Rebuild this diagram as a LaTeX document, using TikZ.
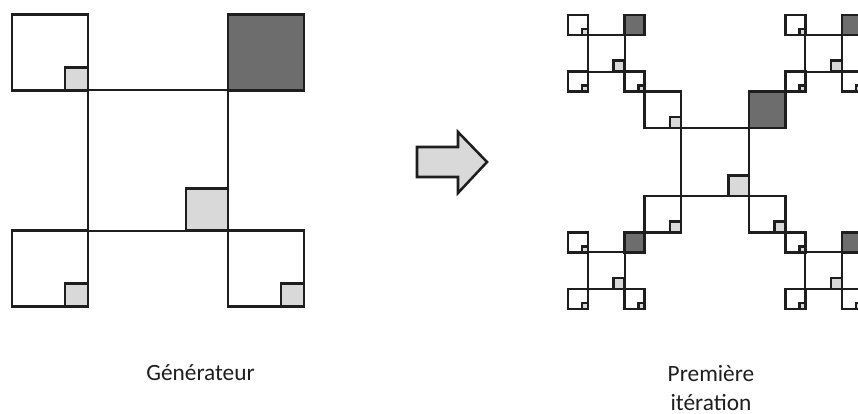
\documentclass[tikz,border=0pt]{standalone}
\usepackage{fontspec}
\setmainfont{Carlito}
\usepackage{tikz}

\definecolor{lite}{HTML}{D9D9D9}
\definecolor{dark}{HTML}{6D6D6D}
\definecolor{edge}{HTML}{1E1E1E}
\tikzset{sq/.style={draw=edge,line width=1.9pt,line join=miter},
  midsq/.style={sq,line width=1.5pt},
  caption/.style={text=edge,anchor=base,inner sep=0pt,font=\fontsize{17.5}{21}\selectfont}}

% white square with a light mark in its lower right corner
\newcommand{\boxlite}[4][sq]{%
  \draw[#1,fill=white] ({#2},{#3}) rectangle ++({#4},{#4});
  \draw[sq,fill=lite] ({#2+0.7*#4},{#3+0.7*#4}) rectangle ++({0.3*#4},{0.3*#4});
}
% generator: top left corner (#1,#2), side #3
\newcommand{\gener}[3]{%
  \pgfmathsetmacro{\gb}{0.26*#3}%
  \pgfmathsetmacro{\ga}{0.48*#3}%
  \pgfmathsetmacro{\gc}{\gb+\ga}%
  \boxlite[midsq]{#1+\gb}{#2+\gb}{\ga}
  \boxlite{#1}{#2}{\gb}
  \boxlite{#1}{#2+\gc}{\gb}
  \boxlite{#1+\gc}{#2+\gc}{\gb}
  \draw[sq,fill=dark] ({#1+\gc},{#2}) rectangle ++({\gb},{\gb});
}

\begin{document}
\begin{tikzpicture}[x=0.75pt,y=-0.75pt]
\useasboundingbox (0,0) rectangle (858,414);
\clip (0,0) rectangle (858,414);
\gener{12}{14.5}{292}
% first iteration
\foreach \px/\py/\ps in {568/15/76.44, 785.56/15/76.44, 644.44/91.44/141.12,
                         568/232.56/76.44, 785.56/232.56/76.44}
  {\gener{\px}{\py}{\ps}}
\draw[sq,fill=lite] (417,147) -- (458,147) -- (458,132) -- (487,162)
  -- (458,193) -- (458,177) -- (417,177) -- cycle;
\node[caption] (gen) at (200.5,380) {Générateur};
\node[caption] (prem) at (711,381) {Première};
\node[caption] (iter) at (711,410) {itération};
\end{tikzpicture}
\end{document}
